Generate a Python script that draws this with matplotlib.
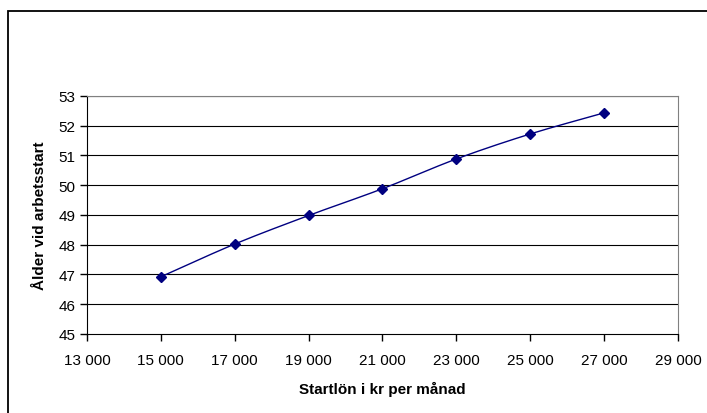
import matplotlib.pyplot as plt
import numpy as np
from matplotlib.patches import Rectangle
from matplotlib.ticker import FuncFormatter

plt.rcParams['font.family'] = ['Liberation Sans', 'DejaVu Sans']

# data
salary = [15000, 17000, 19000, 21000, 23000, 25000, 27000]
age = [46.92, 48.02, 48.98, 49.88, 50.88, 51.72, 52.43]


def smooth(x, y, n=30):
    # Catmull-Rom style smoothing like Excel's smoothed line
    x = np.asarray(x, float)
    y = np.asarray(y, float)
    xs, ys = [], []
    for i in range(len(x) - 1):
        p0 = (x[i - 1], y[i - 1]) if i > 0 else (2 * x[i] - x[i + 1], 2 * y[i] - y[i + 1])
        p1 = (x[i], y[i])
        p2 = (x[i + 1], y[i + 1])
        p3 = (x[i + 2], y[i + 2]) if i + 2 < len(x) else (2 * x[i + 1] - x[i], 2 * y[i + 1] - y[i])
        t = np.linspace(0, 1, n)
        for k, (a0, a1, a2, a3) in enumerate([(p0[0], p1[0], p2[0], p3[0]), (p0[1], p1[1], p2[1], p3[1])]):
            v = 0.5 * (2 * a1 + (-a0 + a2) * t + (2 * a0 - 5 * a1 + 4 * a2 - a3) * t ** 2
                       + (-a0 + 3 * a1 - 3 * a2 + a3) * t ** 3)
            (xs if k == 0 else ys).append(v)
    return np.concatenate(xs), np.concatenate(ys)


fig = plt.figure(figsize=(7.07, 4.14), dpi=100)
ax = fig.add_axes([0.123, 0.191, 0.836, 0.575])

for yv in range(46, 54):
    ax.axhline(yv, color='black', linewidth=0.8, zorder=1)

sx, sy = smooth(salary, age)
ax.plot(sx, sy, color='#000080', linewidth=1.0, zorder=3)
ax.plot(salary, age, linestyle='none', marker='D', markersize=5,
        color='#000080', zorder=4)

ax.set_xlim(13000, 29000)
ax.set_ylim(45, 53)
ax.set_xticks(range(13000, 29001, 2000))
ax.set_yticks(range(45, 54))
ax.xaxis.set_major_formatter(FuncFormatter(lambda v, p: f'{int(v):,}'.replace(',', ' ')))

ax.spines['top'].set_color('#808080')
ax.spines['right'].set_color('#808080')
ax.spines['left'].set_color('black')
ax.spines['bottom'].set_color('black')
ax.tick_params(axis='both', direction='out', length=5, width=1, labelsize=11)
ax.tick_params(axis='x', pad=9)

ax.set_xlabel('Startlön i kr per månad', fontsize=11, fontweight='bold', labelpad=10)
ax.set_ylabel('Ålder vid arbetsstart', fontsize=11, fontweight='bold', labelpad=8)

# outer chart border, cut off at the right and bottom edges
fig.patches.append(Rectangle((8 / 707, -10 / 414), 710 / 707, 412 / 414,
                             transform=fig.transFigure, fill=False,
                             edgecolor='black', linewidth=1.3))

fig.savefig('out.png', dpi=100)
